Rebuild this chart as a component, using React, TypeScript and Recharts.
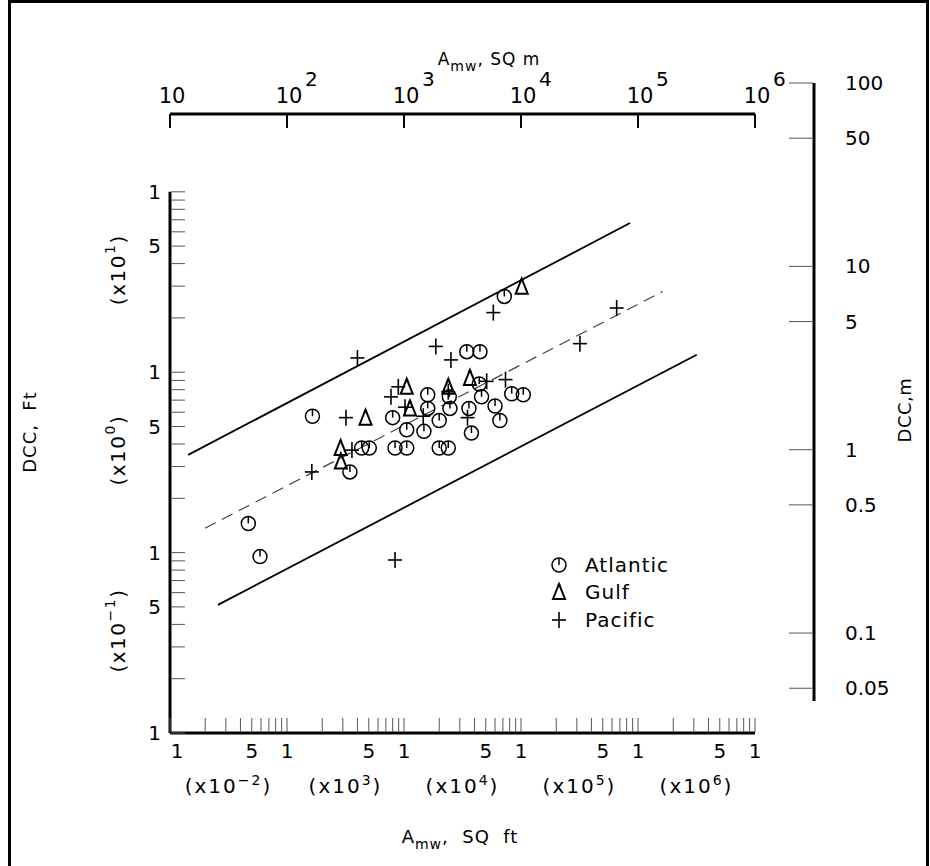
import React from 'react';
import { ScatterChart, Scatter, XAxis, YAxis, ReferenceLine, Legend } from 'recharts';

const FONT = "'DejaVu Sans', 'Liberation Sans', sans-serif";
const INK = '#000';
const TICK_GRAY = '#555';

// ---------------- data ----------------
// A_mw in square feet, DCC in feet
const atlanticArea = [72000, 34400, 44600, 44000, 83300, 104600, 15950, 24400, 46000, 15950, 24700, 35900, 60000, 1650, 8000, 20000, 66000, 10550, 14800, 37700, 4350, 5050, 8380, 10550, 20000, 23900, 3450, 467, 588];
const atlanticDcc = [26.3, 13.0, 13.0, 8.6, 7.6, 7.5, 7.5, 7.3, 7.3, 6.3, 6.3, 6.3, 6.5, 5.7, 5.6, 5.4, 5.4, 4.8, 4.7, 4.6, 3.8, 3.8, 3.8, 3.8, 3.8, 3.8, 2.8, 1.45, 0.95];

const gulfArea = [101400, 36600, 10550, 23900, 11250, 4690, 2870, 2890];
const gulfDcc = [29.8, 9.3, 8.3, 8.3, 6.3, 5.6, 3.8, 3.2];

const pacificArea = [4000, 18700, 25200, 50900, 73700, 8940, 23900, 7740, 10200, 3190, 14600, 34900, 3590, 1630, 58000, 657000, 319000, 8380];
const pacificDcc = [12.0, 13.9, 11.7, 8.9, 9.1, 8.3, 7.8, 7.3, 6.4, 5.6, 5.7, 5.6, 3.7, 2.8, 21.4, 22.7, 14.4, 0.91];

const upperBoundArea = [143, 854600];
const upperBoundDcc = [3.48, 67.1];
const meanLineArea = [199, 1626000];
const meanLineDcc = [1.365, 28.0];
const lowerBoundArea = [257, 3175000];
const lowerBoundDcc = [0.513, 12.5];

const SQFT_PER_SQM = 10.7639;

// ---------------- axes / tick labels ----------------
const areaDomain = [100, 1e7];
const areaMDomain = [10, 1e6];
const dccDomain = [0.1, 270];
const dccMDomain = [0.0426, 100];

const multiples = [1, 2, 3, 4, 5, 6, 7, 8, 9];
const areaDecades = [100, 1000, 10000, 100000, 1000000];
const areaTicks = [...areaDecades.flatMap((d) => multiples.map((m) => m * d)), 10000000];
const areaMultiplierTicks = [316, 3162, 31623, 316228, 3162278];
const areaMultiplierExps = ['\u22122', '3', '4', '5', '6'];
const areaMTicks = [10, 100, 1000, 10000, 100000, 1000000];
const areaMExps = ['', '2', '3', '4', '5', '6'];
// the drawing lines the metric decades up with the ft^2 decades (10 m^2 over 100 ft^2)
const areaMTickOnFtScale = areaMTicks.map((v) => v * 10);
const TOP_TICK_END_DCC = 228; // metric tick marks hang from the top edge down to this DCC level

const dccDecades = [0.1, 1, 10];
const dccTicks = [...dccDecades.flatMap((d) => multiples.map((m) => +(m * d).toPrecision(3))), 100];
const dccMultiplierTicks = [0.37, 3.7, 37];
const dccMultiplierExps = ['\u22121', '0', '1'];
const dccMTicks = [0.05, 0.1, 0.5, 1, 5, 10, 50, 100];
const dccMLabels = ['0.05', '0.1', '0.5', '1', '5', '10', '50', '100'];

const toPoints = (xs: number[], ys: number[]) => xs.map((x, i) => ({ x, y: ys[i] }));
const atlantic = toPoints(atlanticArea, atlanticDcc);
const gulf = toPoints(gulfArea, gulfDcc);
const pacific = toPoints(pacificArea, pacificDcc);
const upperBound = toPoints(upperBoundArea, upperBoundDcc);
const meanLine = toPoints(meanLineArea, meanLineDcc);
const lowerBound = toPoints(lowerBoundArea, lowerBoundDcc);
// same Atlantic sites expressed in square metres (binds the metric top axis)
const atlanticMetric = toPoints(atlanticArea.map((a) => a / SQFT_PER_SQM), atlanticDcc);

const mantissaOf = (v: number) => {
  const e = Math.floor(Math.log10(v) + 1e-9);
  return Math.round(v / Math.pow(10, e));
};
const closeTo = (a: number, b: number) => Math.abs(a - b) / b < 1e-6;
const indexIn = (arr: number[], v: number) => arr.findIndex((t) => closeTo(v, t));

// ---------------- markers ----------------
const AtlanticMark = (p: any) => {
  const { cx, cy } = p;
  if (cx == null || cy == null) return <g />;
  return (
    <g>
      <circle cx={cx} cy={cy} r={7} fill="none" stroke={INK} strokeWidth={1.5} />
      <line x1={cx} y1={cy - 7} x2={cx} y2={cy} stroke={INK} strokeWidth={1.5} />
    </g>
  );
};
const GulfMark = (p: any) => {
  const { cx, cy } = p;
  if (cx == null || cy == null) return <g />;
  return (
    <g>
      <polygon
        points={`${cx},${cy - 8} ${cx - 6},${cy + 7} ${cx + 6},${cy + 7}`}
        fill="none"
        stroke={INK}
        strokeWidth={2}
      />
      <circle cx={cx} cy={cy - 6.5} r={1.6} fill={INK} />
    </g>
  );
};
const PacificMark = (p: any) => {
  const { cx, cy } = p;
  if (cx == null || cy == null) return <g />;
  return (
    <g stroke={INK} strokeWidth={1.6}>
      <line x1={cx - 7} y1={cy} x2={cx + 7} y2={cy} />
      <line x1={cx} y1={cy - 8} x2={cx} y2={cy + 8} />
    </g>
  );
};
const NoMark = () => <g />;

const seriesMarks: Record<string, (p: any) => any> = {
  Atlantic: AtlanticMark,
  Gulf: GulfMark,
  Pacific: PacificMark,
};
const legendOrder = ['Atlantic', 'Gulf', 'Pacific'];

// ---------------- ticks ----------------
const BottomTick = (p: any) => {
  const { x, y, payload, index } = p;
  const m = mantissaOf(payload.value);
  return (
    <g>
      <line x1={x} y1={y - 1} x2={x} y2={y - 15} stroke={TICK_GRAY} strokeWidth={1} />
      {(m === 1 || m === 5) && (
        <text x={x + (index === 0 ? 7 : 0)} y={y + 25} textAnchor="middle" fontSize={20} fontFamily={FONT} fill={INK}>
          {m}
        </text>
      )}
    </g>
  );
};

const BottomMultTick = (p: any) => {
  const { x, y, payload } = p;
  const i = indexIn(areaMultiplierTicks, payload.value);
  return (
    <text x={x} y={y + 25} textAnchor="middle" fontSize={20} fontFamily={FONT} fill={INK} letterSpacing={2}>
      (x10
      <tspan dy={-8} fontSize={14}>{i >= 0 ? areaMultiplierExps[i] : ''}</tspan>
      <tspan dy={8}>)</tspan>
    </text>
  );
};

// metric axis drawn as a "bottom" axis whose line sits on top of the plot:
// labels are lifted above the line, tick marks hang below it
const TOP_TICK = 14;
const TopTick = (p: any) => {
  const { payload } = p;
  const x = Number(p.x);
  const lineY = Number(p.y) - TOP_TICK;
  const i = indexIn(areaMTicks, payload.value);
  const exp = i >= 0 ? areaMExps[i] : '';
  return (
    <g>
      <path d={`M ${x} ${lineY} V ${lineY + TOP_TICK}`} stroke={INK} strokeWidth={1.4} fill="none" />
      <text x={x + 2} y={lineY - 11} textAnchor="middle" fontSize={21} fontFamily={FONT} fill={INK}>
        10
      </text>
      {exp && (
        <text x={x + 18} y={lineY - 28} textAnchor="start" fontSize={20} fontFamily={FONT} fill={INK}>
          {exp}
        </text>
      )}
    </g>
  );
};

const LeftTick = (p: any) => {
  const { x, y, payload } = p;
  const m = mantissaOf(payload.value);
  return (
    <g>
      <line x1={x + 1} y1={y} x2={x + 15} y2={y} stroke={TICK_GRAY} strokeWidth={1} />
      {(m === 1 || m === 5) && (
        <text x={x - 9} y={y + 7} textAnchor="end" fontSize={20} fontFamily={FONT} fill={INK}>
          {m}
        </text>
      )}
    </g>
  );
};

const LeftMultTick = (p: any) => {
  const { x, y, payload } = p;
  const i = indexIn(dccMultiplierTicks, payload.value);
  const cx = x - 12;
  return (
    <text
      x={cx}
      y={y}
      transform={`rotate(-90, ${cx}, ${y})`}
      textAnchor="middle"
      dominantBaseline="central"
      fontSize={20}
      fontFamily={FONT}
      fill={INK}
      letterSpacing={1.5}
    >
      (x10
      <tspan dy={-8} fontSize={14}>{i >= 0 ? dccMultiplierExps[i] : ''}</tspan>
      <tspan dy={8}>)</tspan>
    </text>
  );
};

const RightTick = (p: any) => {
  const { x, y, payload } = p;
  const i = indexIn(dccMTicks, payload.value);
  return (
    <g>
      <line x1={x - 25} y1={y} x2={x - 1} y2={y} stroke={TICK_GRAY} strokeWidth={1} />
      <text x={x + 31} y={y + 7} textAnchor="start" fontSize={20} fontFamily={FONT} fill={INK}>
        {i >= 0 ? dccMLabels[i] : ''}
      </text>
    </g>
  );
};

// ---------------- legend ----------------
const LegendContent = (props: any) => {
  const names: string[] =
    props && props.payload && props.payload.length
      ? props.payload.map((e: any) => e.value).filter((n: string) => seriesMarks[n])
      : legendOrder;
  const list = names.length ? names : legendOrder;
  return (
    <div style={{ fontFamily: FONT, fontSize: 20, color: INK }}>
      {list.map((n) => {
        const Mark = seriesMarks[n];
        return (
          <div key={n} style={{ display: 'flex', alignItems: 'center', height: 27.5 }}>
            <svg width={20} height={20} style={{ overflow: 'visible' }}>
              <Mark cx={10} cy={10} />
            </svg>
            <span style={{ marginLeft: 16, letterSpacing: 1, lineHeight: '20px' }}>{n}</span>
          </div>
        );
      })}
    </div>
  );
};

// ---------------- titles ----------------
const titleStyle: React.CSSProperties = {
  position: 'absolute',
  fontFamily: FONT,
  fontSize: 18,
  color: INK,
  whiteSpace: 'pre',
  lineHeight: '22px',
  pointerEvents: 'none',
};
const Sub = ({ children }: { children: React.ReactNode }) => (
  <span style={{ fontSize: 14, position: 'relative', top: 6 }}>{children}</span>
);

const hiddenSeries = { shape: (p: any) => <NoMark {...p} />, legendType: 'none' as const, isAnimationActive: false };

const TOP_CHART_H = 150;
const RIGHT_CHART_X = 700;

export default function App() {
  return (
    <div style={{ position: 'absolute', left: 0, top: 0, width: 930, height: 866, background: '#fff', overflow: 'hidden' }}>
      {/* outer frame */}
      <div
        style={{
          position: 'absolute',
          left: 8,
          top: 0,
          width: 921,
          height: 872,
          border: '3px solid #000',
          boxSizing: 'border-box',
        }}
      />

      {/* metric area axis across the top */}
      <div style={{ position: 'absolute', left: 0, top: 0, pointerEvents: 'none' }}>
        <ScatterChart width={930} height={TOP_CHART_H} margin={{ top: 0, right: 175, bottom: TOP_CHART_H - 114 - 30, left: 170 }}>
          <XAxis
            xAxisId="m"
            dataKey="x"
            type="number"
            scale="log"
            domain={areaMDomain}
            allowDataOverflow
            ticks={areaMTicks}
            interval={0}
            orientation="bottom"
            height={30}
            tickSize={TOP_TICK}
            tickMargin={0}
            tickLine={{ stroke: INK, strokeWidth: 1.4 }}
            stroke={INK}
            axisLine={{ stroke: INK, strokeWidth: 3 }}
            tick={(p: any) => <TopTick {...p} />}
          />
          <YAxis yAxisId="h" dataKey="y" type="number" scale="log" domain={dccDomain} allowDataOverflow hide />
          <Scatter name="metric" data={atlanticMetric} xAxisId="m" yAxisId="h" {...hiddenSeries} />
        </ScatterChart>
      </div>

      {/* right-hand metric DCC axis */}
      <div style={{ position: 'absolute', left: RIGHT_CHART_X, top: 0, pointerEvents: 'none' }}>
        <ScatterChart width={930 - RIGHT_CHART_X} height={866} margin={{ top: 83, right: 0, bottom: 165, left: 0 }}>
          <XAxis xAxisId="r" type="number" domain={[0, 1]} hide />
          <YAxis
            yAxisId="r"
            orientation="right"
            type="number"
            scale="log"
            domain={dccMDomain}
            allowDataOverflow
            ticks={dccMTicks}
            interval={0}
            width={116}
            tickSize={0}
            tickMargin={0}
            tickLine={false}
            axisLine={{ stroke: INK, strokeWidth: 3 }}
            tick={(p: any) => <RightTick {...p} />}
          />
        </ScatterChart>
      </div>

      {/* main chart: ft^2 vs ft (drawn last, transparent) */}
      <div style={{ position: 'absolute', left: 0, top: 0 }}>
        <ScatterChart width={930} height={866} margin={{ top: 114, right: 175, bottom: 53, left: 80 }}>
          <XAxis
            xAxisId="ft"
            dataKey="x"
            type="number"
            scale="log"
            domain={areaDomain}
            allowDataOverflow
            ticks={areaTicks}
            interval={0}
            orientation="bottom"
            height={35}
            tickSize={0}
            tickMargin={0}
            tickLine={false}
            axisLine={{ stroke: INK, strokeWidth: 3 }}
            tick={(p: any) => <BottomTick {...p} />}
          />
          <XAxis
            xAxisId="ftMult"
            dataKey="x"
            type="number"
            scale="log"
            domain={areaDomain}
            allowDataOverflow
            ticks={areaMultiplierTicks}
            interval={0}
            orientation="bottom"
            height={45}
            tickSize={0}
            tickMargin={0}
            tickLine={false}
            axisLine={false}
            tick={(p: any) => <BottomMultTick {...p} />}
          />
          <YAxis
            yAxisId="ft"
            dataKey="y"
            type="number"
            scale="log"
            domain={dccDomain}
            allowDataOverflow
            ticks={dccTicks}
            interval={0}
            orientation="left"
            width={40}
            tickSize={0}
            tickMargin={0}
            tickLine={false}
            axisLine={false}
            tick={(p: any) => <LeftTick {...p} />}
          />
          <YAxis
            yAxisId="ftMult"
            dataKey="y"
            type="number"
            scale="log"
            domain={dccDomain}
            allowDataOverflow
            ticks={dccMultiplierTicks}
            interval={0}
            orientation="left"
            width={50}
            tickSize={0}
            tickMargin={0}
            tickLine={false}
            axisLine={false}
            tick={(p: any) => <LeftMultTick {...p} />}
          />

          <ReferenceLine
            xAxisId="ft"
            yAxisId="ft"
            segment={[
              { x: areaDomain[0], y: 0.1 },
              { x: areaDomain[0], y: 100 },
            ]}
            stroke={INK}
            strokeWidth={3}
            ifOverflow="visible"
          />

          {/* tick marks of the metric axis, hanging from the top edge */}
          {areaMTickOnFtScale.map((v) => (
            <ReferenceLine
              key={`mt-${v}`}
              xAxisId="ft"
              yAxisId="ft"
              segment={[
                { x: v, y: dccDomain[1] },
                { x: v, y: TOP_TICK_END_DCC },
              ]}
              stroke={INK}
              strokeWidth={1.4}
              ifOverflow="visible"
            />
          ))}

          <Scatter name="decades" data={atlantic} xAxisId="ftMult" yAxisId="ftMult" {...hiddenSeries} />

          <Scatter
            name="upper bound"
            data={upperBound}
            xAxisId="ft"
            yAxisId="ft"
            line={{ stroke: INK, strokeWidth: 1.8 }}
            lineType="joint"
            {...hiddenSeries}
          />
          <Scatter
            name="mean"
            data={meanLine}
            xAxisId="ft"
            yAxisId="ft"
            line={{ stroke: '#444', strokeWidth: 1.2, strokeDasharray: '12 7' }}
            lineType="joint"
            {...hiddenSeries}
          />
          <Scatter
            name="lower bound"
            data={lowerBound}
            xAxisId="ft"
            yAxisId="ft"
            line={{ stroke: INK, strokeWidth: 1.8 }}
            lineType="joint"
            {...hiddenSeries}
          />

          <Scatter name="Atlantic" data={atlantic} xAxisId="ft" yAxisId="ft" shape={(p: any) => <AtlanticMark {...p} />} isAnimationActive={false} />
          <Scatter name="Gulf" data={gulf} xAxisId="ft" yAxisId="ft" shape={(p: any) => <GulfMark {...p} />} isAnimationActive={false} />
          <Scatter name="Pacific" data={pacific} xAxisId="ft" yAxisId="ft" shape={(p: any) => <PacificMark {...p} />} isAnimationActive={false} />

          <Legend
            layout="vertical"
            align="center"
            verticalAlign="middle"
            content={(p: any) => <LegendContent {...p} />}
            wrapperStyle={{ left: 549, top: 551, width: 'auto', height: 'auto' }}
          />
        </ScatterChart>
      </div>

      {/* axis titles */}
      <div style={{ ...titleStyle, left: 489, top: 48, fontSize: 17, transform: 'translateX(-50%)', letterSpacing: 1 }}>
        A<Sub>mw</Sub>, SQ m
      </div>
      <div style={{ ...titleStyle, left: 460, top: 826, transform: 'translateX(-50%)', letterSpacing: 1 }}>
        A<Sub>mw</Sub>,  SQ  ft
      </div>
      <div style={{ ...titleStyle, left: 30, top: 432, transform: 'translate(-50%, -50%) rotate(-90deg)', letterSpacing: 1 }}>
        DCC,  Ft
      </div>
      <div style={{ ...titleStyle, left: 905, top: 410, transform: 'translate(-50%, -50%) rotate(-90deg)', letterSpacing: 0.5 }}>
        DCC,m
      </div>
    </div>
  );
}
